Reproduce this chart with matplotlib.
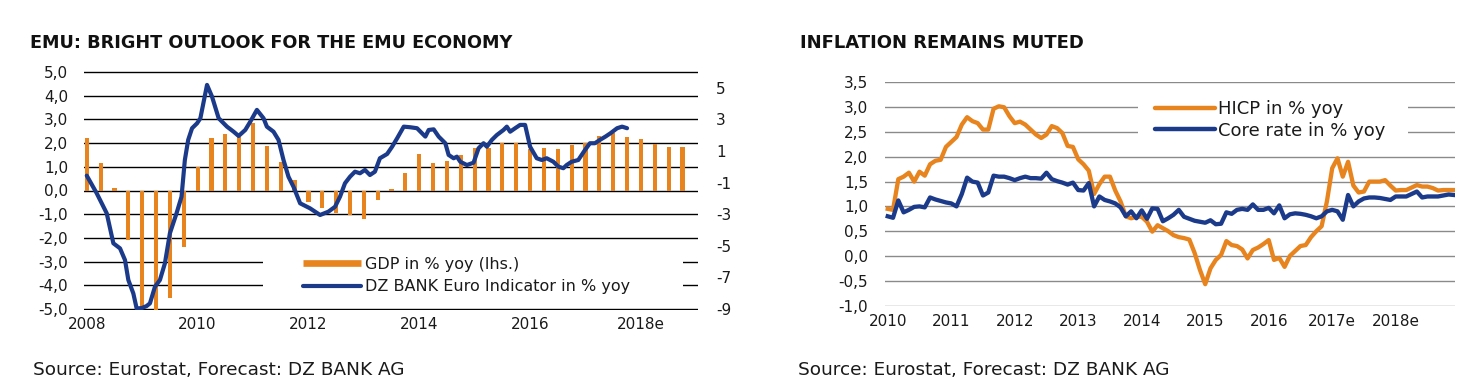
import numpy as np
import matplotlib
matplotlib.use("Agg")
import matplotlib.pyplot as plt
from matplotlib.lines import Line2D
from matplotlib.patches import Rectangle
from matplotlib.ticker import FuncFormatter

plt.rcParams['font.family'] = ['DejaVu Sans']

ORANGE = '#E8841E'
BLUE = '#1B3A8A'

# ---------------- Left chart data ----------------
gdp_quarters = [2008 + q * 0.25 for q in range(44)]
gdp_values = [2.2, 1.17, 0.1, -2.1,
              -4.95, -5.05, -4.55, -2.37,
              1.0, 2.23, 2.37, 2.25,
              2.83, 1.88, 1.2, 0.45,
              -0.47, -0.75, -0.95, -1.05,
              -1.2, -0.4, 0.05, 0.75,
              1.53, 1.15, 1.24, 1.5,
              1.8, 1.78, 2.02, 1.99,
              1.75, 1.78, 1.75, 1.92,
              2.0, 2.3, 2.44, 2.27,
              2.17, 1.95, 1.85, 1.85]

dz_dates = [2008.00, 2008.18, 2008.36, 2008.48, 2008.60, 2008.69, 2008.75, 2008.84, 2008.90, 2008.99,
            2009.08, 2009.14, 2009.23, 2009.32, 2009.41, 2009.50, 2009.62, 2009.71, 2009.77, 2009.83,
            2009.90, 2009.99, 2010.05, 2010.17, 2010.26, 2010.38, 2010.53, 2010.65, 2010.74, 2010.86,
            2010.95, 2011.07, 2011.19, 2011.25, 2011.37, 2011.46, 2011.55, 2011.64, 2011.73, 2011.85,
            2012.03, 2012.12, 2012.21, 2012.36, 2012.48, 2012.57, 2012.66, 2012.75, 2012.84, 2012.93,
            2013.02, 2013.11, 2013.20, 2013.29, 2013.42, 2013.51, 2013.60, 2013.72, 2013.84, 2013.96,
            2014.05, 2014.11, 2014.17, 2014.26, 2014.35, 2014.47, 2014.53, 2014.62, 2014.68, 2014.74,
            2014.86, 2014.98, 2015.07, 2015.16, 2015.22, 2015.31, 2015.40, 2015.52, 2015.58, 2015.64,
            2015.73, 2015.82, 2015.91, 2016.00, 2016.12, 2016.21, 2016.30, 2016.42, 2016.51, 2016.60,
            2016.66, 2016.75, 2016.87, 2016.99, 2017.08, 2017.17, 2017.26, 2017.36, 2017.45, 2017.57,
            2017.66, 2017.75]
dz_values = [-0.56, -1.68, -2.94, -4.84, -5.16, -5.90, -7.16, -8.01, -8.96, -8.94,
             -8.81, -8.64, -7.59, -7.16, -6.11, -4.21, -2.94, -1.89, 0.43, 1.70,
             2.44, 2.75, 3.07, 5.18, 4.44, 3.07, 2.54, 2.22, 1.95, 2.33,
             2.85, 3.60, 3.07, 2.54, 2.22, 1.70, 0.43, -0.63, -1.26, -2.31,
             -2.63, -2.84, -3.05, -2.84, -2.53, -1.89, -1.04, -0.63, -0.31, -0.41,
             -0.20, -0.52, -0.31, 0.54, 0.81, 1.27, 1.80, 2.54, 2.50, 2.44,
             2.12, 1.91, 2.33, 2.37, 1.91, 1.49, 0.75, 0.54, 0.64, 0.32,
             0.11, 0.26, 1.17, 1.49, 1.27, 1.70, 2.01, 2.33, 2.54, 2.22,
             2.44, 2.65, 2.65, 1.27, 0.54, 0.43, 0.54, 0.32, 0.01, -0.09,
             0.11, 0.32, 0.43, 1.06, 1.49, 1.49, 1.70, 1.91, 2.12, 2.44,
             2.54, 2.44]

left_xticks = [2008, 2010, 2012, 2014, 2016, 2018]
left_xlabels = ['2008', '2010', '2012', '2014', '2016', '2018e']
left_yticks = [-5, -4, -3, -2, -1, 0, 1, 2, 3, 4, 5]
left_y2ticks = [-9, -7, -5, -3, -1, 1, 3, 5]

# ---------------- Right chart data ----------------
infl_months = [2010 + m / 12 for m in range(108)]
hicp = [0.95, 0.93, 1.55, 1.6, 1.68, 1.5, 1.70, 1.62, 1.85, 1.92, 1.94, 2.2,
        2.3, 2.4, 2.65, 2.8, 2.72, 2.68, 2.55, 2.55, 2.97, 3.02, 3.0, 2.82,
        2.68, 2.71, 2.65, 2.55, 2.45, 2.38, 2.45, 2.62, 2.58, 2.48, 2.22, 2.2,
        1.95, 1.85, 1.72, 1.25, 1.45, 1.6, 1.6, 1.32, 1.1, 0.8, 0.76, 0.79,
        0.79, 0.69, 0.49, 0.62, 0.56, 0.5, 0.42, 0.38, 0.36, 0.33, 0.06, -0.28,
        -0.57, -0.25, -0.08, 0.02, 0.3, 0.22, 0.2, 0.13, -0.05, 0.12, 0.17, 0.24,
        0.32, -0.08, -0.04, -0.22, 0.0, 0.1, 0.2, 0.22, 0.38, 0.5, 0.6, 1.1,
        1.77, 1.97, 1.6, 1.9, 1.42, 1.28, 1.3, 1.5, 1.5, 1.5, 1.53, 1.42,
        1.32, 1.33, 1.33, 1.38, 1.43, 1.4, 1.4, 1.37, 1.32, 1.33, 1.33, 1.33]
core = [0.80, 0.77, 1.12, 0.88, 0.93, 0.99, 1.0, 0.98, 1.18, 1.14, 1.11, 1.08,
        1.06, 1.0, 1.25, 1.58, 1.5, 1.48, 1.22, 1.28, 1.62, 1.6, 1.6, 1.57,
        1.53, 1.57, 1.6, 1.57, 1.57, 1.56, 1.68, 1.55, 1.51, 1.48, 1.44, 1.48,
        1.33, 1.32, 1.47, 1.0, 1.2, 1.13, 1.1, 1.06, 0.98, 0.8, 0.9, 0.76,
        0.92, 0.75, 0.96, 0.95, 0.70, 0.76, 0.83, 0.93, 0.79, 0.75, 0.71, 0.69,
        0.67, 0.72, 0.64, 0.65, 0.88, 0.85, 0.93, 0.95, 0.93, 1.04, 0.93, 0.93,
        0.97, 0.86, 1.02, 0.76, 0.84, 0.86, 0.85, 0.83, 0.8, 0.76, 0.8, 0.9,
        0.93, 0.9, 0.73, 1.23, 1.0, 1.1, 1.16, 1.18, 1.18, 1.17, 1.15, 1.13,
        1.2, 1.2, 1.2, 1.25, 1.3, 1.18, 1.2, 1.2, 1.2, 1.22, 1.24, 1.23]

right_xticks = [2010, 2011, 2012, 2013, 2014, 2015, 2016, 2017, 2018]
right_xlabels = ['2010', '2011', '2012', '2013', '2014', '2015', '2016', '2017e', '2018e']
right_yticks = [-1.0, -0.5, 0.0, 0.5, 1.0, 1.5, 2.0, 2.5, 3.0, 3.5]

# ---------------- Figure ----------------
W, H = 1464, 379
fig = plt.figure(figsize=(W / 100, H / 100), dpi=100)


def fx(px):
    return px / W


def fy(py):
    return 1 - py / H


comma1 = FuncFormatter(lambda v, p: f"{v:.1f}".replace('.', ','))
TXT = '#1a1a1a'

# ---- Left chart ----
ax1 = fig.add_axes([fx(84), fy(310), (698 - 84) / W, (310 - 71) / H])
ax1.bar(gdp_quarters, gdp_values, width=0.075, color=ORANGE, zorder=2)
ax1.set_ylim(-5.04, 5.04)
ax1.set_xlim(2007.95, 2019.03)
ax1.set_yticks(left_yticks)
ax1.yaxis.set_major_formatter(comma1)
ax1.set_xticks(left_xticks)
ax1.set_xticklabels(left_xlabels)
ax1.grid(axis='y', color='black', lw=1.0)
ax1.set_axisbelow(True)
for s in ax1.spines.values():
    s.set_visible(False)
ax1.tick_params(axis='both', length=0, labelsize=11, colors=TXT)
ax1.tick_params(axis='y', pad=11.5)
ax1.tick_params(axis='x', pad=5)
ax1.add_patch(Rectangle((0.2915, 0.04), 0.684, 0.23, transform=ax1.transAxes,
                        facecolor='white', edgecolor='none', zorder=1))

ax2 = ax1.twinx()
ax2.plot(dz_dates, dz_values, color=BLUE, lw=3.0, solid_capstyle='round', solid_joinstyle='round')
ax2.set_ylim(-9.06, 6.06)
ax2.set_yticks(left_y2ticks)
ax2.set_yticklabels([str(v) for v in left_y2ticks])
for s in ax2.spines.values():
    s.set_visible(False)
ax2.tick_params(axis='y', length=0, labelsize=11, colors=TXT, pad=13)

h1 = [Line2D([], [], color=ORANGE, lw=4.8, solid_capstyle='butt'),
      Line2D([], [], color=BLUE, lw=3.0, solid_capstyle='round')]
ax2.legend(h1, ['GDP in % yoy (lhs.)', 'DZ BANK Euro Indicator in % yoy'],
           loc='upper left', bbox_to_anchor=(fx(303), fy(257)), bbox_transform=fig.transFigure,
           frameon=False, borderpad=0, borderaxespad=0, handlelength=3.6, handletextpad=0.3,
           labelspacing=0.45, fontsize=11.5, labelcolor=TXT)

fig.text(fx(30), fy(43), 'EMU: BRIGHT OUTLOOK FOR THE EMU ECONOMY', fontsize=12.7,
         fontweight='bold', ha='left', va='center', color='#111111')
fig.text(fx(33), fy(370), 'Source: Eurostat, Forecast: DZ BANK AG', fontsize=13.3,
         ha='left', va='center', color=TXT)

# ---- Right chart ----
ax3 = fig.add_axes([fx(885), fy(306), (1455 - 885) / W, (306 - 82) / H])
ax3.plot(infl_months, hicp, color=ORANGE, lw=3.1, solid_joinstyle='round', zorder=3)
ax3.plot(infl_months, core, color=BLUE, lw=3.1, solid_joinstyle='round', zorder=3)
ax3.set_ylim(-1.01, 3.51)
ax3.set_xlim(2009.957, 2018.934)
ax3.set_yticks(right_yticks)
ax3.yaxis.set_major_formatter(comma1)
ax3.set_xticks(right_xticks)
ax3.set_xticklabels(right_xlabels)
ax3.grid(axis='y', color='#8a8a8a', lw=1.0)
ax3.set_axisbelow(True)
for s in ax3.spines.values():
    s.set_visible(False)
ax3.tick_params(axis='both', length=0, labelsize=11, colors=TXT)
ax3.tick_params(axis='y', pad=12)
ax3.tick_params(axis='x', pad=6)
ax3.add_patch(Rectangle((0.444, 0.72), 0.4735, 0.225, transform=ax3.transAxes,
                        facecolor='white', edgecolor='none', zorder=1))
h2 = [Line2D([], [], color=ORANGE, lw=3.2, solid_capstyle='round'),
      Line2D([], [], color=BLUE, lw=3.2, solid_capstyle='round')]
ax3.legend(h2, ['HICP in % yoy', 'Core rate in % yoy'],
           loc='upper left', bbox_to_anchor=(fx(1155), fy(100)), bbox_transform=fig.transFigure,
           frameon=False, borderpad=0, borderaxespad=0, handlelength=3.3, handletextpad=0.2,
           labelspacing=0.2, fontsize=13, labelcolor=TXT)

fig.text(fx(800), fy(43), 'INFLATION REMAINS MUTED', fontsize=13,
         fontweight='bold', ha='left', va='center', color='#111111')
fig.text(fx(798), fy(370), 'Source: Eurostat, Forecast: DZ BANK AG', fontsize=13.3,
         ha='left', va='center', color=TXT)

fig.savefig('out.png', dpi=100)
